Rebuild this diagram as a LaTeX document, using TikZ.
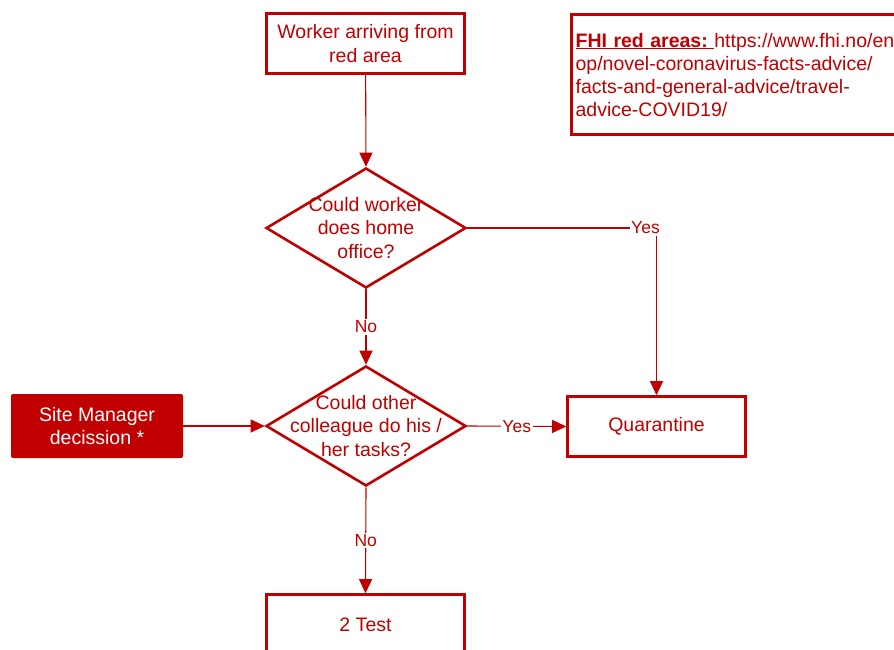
\documentclass[tikz,border=0pt]{standalone}
\usepackage{fontspec}
\setmainfont{Liberation Sans}
\usetikzlibrary{shapes.geometric,arrows.meta}
\definecolor{dred}{HTML}{C00000}
\begin{document}
\begin{tikzpicture}[x=1pt,y=-1pt,
  box/.style={draw=dred, line width=2.6pt, minimum width=198pt, minimum height=60pt,
    text=dred, align=center, inner sep=0pt, font=\fontsize{19.5}{23.5}\selectfont},
  dia/.style={diamond, draw=dred, line width=2.6pt, minimum width=200pt,
    minimum height=120pt, inner sep=0pt},
  dtext/.style={text=dred, align=center, inner sep=0pt, font=\fontsize{19.5}{23.5}\selectfont},
  conn/.style={draw=dred, line width=1.1pt, -{Triangle[length=14pt,width=13pt]}},
  lab/.style={fill=white, text=dred, font=\fontsize{17.5}{20}\selectfont, inner sep=1.5pt}]
\useasboundingbox (0,0) rectangle (894,650);
\fill[white] (0,0) rectangle (894,650);
\clip (0,0) rectangle (894,650);

\node[box] (start) at (365.5,43.5) {Worker arriving from\\red area};
\node[dia] (d1) at (366,228) {};
\node[dtext] (t1) at (366,228) {Could worker\\does home\\office?};
\node[dia] (d2) at (366,426) {};
\node[dtext] (t2) at (366,426) {Could other\\colleague do his /\\her tasks?};
\node[box, minimum width=178pt] (q) at (656.5,426.5) {Quarantine};
\node[box] (test) at (365.5,624.5) {2 Test};
\node[fill=dred, rounded corners=2pt, minimum width=172pt, minimum height=64pt,
  text=white, align=center, inner sep=0pt, font=\fontsize{19.5}{23.5}\selectfont]
  (sm) at (97,426) {Site Manager\\decission *};
\node[draw=dred, line width=2.6pt, anchor=north west, minimum height=120pt,
  text width=380pt, align=left, inner xsep=4pt, inner ysep=0pt, text=dred,
  font=\fontsize{19.5}{23}\selectfont] (fhi) at (570.3,13.3)
  {\underline{\textbf{FHI red areas:}\ }https://www.fhi.no/en\\
   op/novel-coronavirus-facts-advice/\\
   facts-and-general-advice/travel-\\
   advice-COVID19/};

\draw[conn] (start) -- (d1.north);
\draw[conn] (d1.south) -- node[lab] {No} (d2.north);
\draw[conn] (d1.east) -| node[lab, pos=0.5, xshift=-11pt] {Yes} (q.north);
\draw[conn] (sm) -- (d2.west);
\draw[conn] (d2.east) -- node[lab, pos=0.5] {Yes} (q.west);
\draw[conn] (d2.south) -- node[lab, pos=0.5] {No} (test.north);
\end{tikzpicture}
\end{document}
